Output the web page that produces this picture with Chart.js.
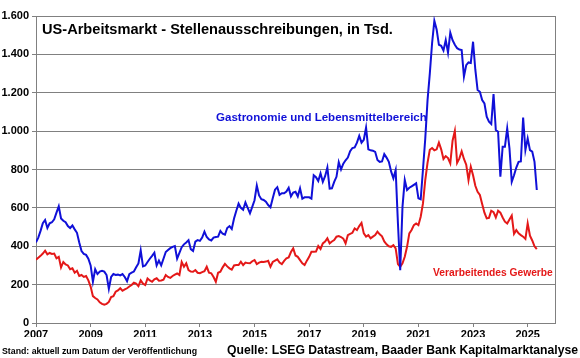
<!DOCTYPE html>
<html><head><meta charset="utf-8">
<script src="https://cdn.jsdelivr.net/npm/chart.js@4"></script>
<style>html,body{margin:0;padding:0;background:#fff}#wrap{width:580px;height:358px;position:relative}</style>
</head><body><div id="wrap"><canvas id="c" width="580" height="358"></canvas></div>
<script>
// Monthly data starting January 2007 (thousands)
const startYear = 2007;
const gastronomie = [
  420, 445, 480, 520, 537, 495, 520, 525, 540, 575, 608, 545,   // 2007
  533, 525, 505, 495, 508, 488, 470, 420, 375, 360, 355, 335,   // 2008
  300, 215, 280, 255, 268, 272, 268, 250, 178, 240, 255, 250,   // 2009
  252, 248, 255, 240, 218, 255, 262, 268, 290, 310, 378, 295,   // 2010
  300, 318, 335, 350, 366, 300, 325, 300, 335, 370, 380, 390,   // 2011
  397, 401, 335, 365, 395, 410, 420, 432, 385, 375, 424, 432,   // 2012
  428, 445, 476, 448, 435, 430, 445, 448, 450, 480, 465, 460,   // 2013
  495, 505, 490, 545, 585, 622, 600, 590, 628, 600, 572, 605,   // 2014
  640, 716, 665, 645, 641, 632, 615, 603, 650, 695, 708, 668,   // 2015
  676, 676, 685, 705, 660, 680, 684, 660, 702, 648, 655, 655,   // 2016
  655, 648, 770, 760, 740, 780, 736, 765, 810, 700, 702, 735,   // 2017
  762, 838, 800, 830, 848, 862, 895, 912, 915, 940, 975, 940,   // 2018
  955, 1018, 905, 900, 898, 892, 850, 840, 842, 880, 862, 840,  // 2019
  790, 754, 797, 520, 275, 605, 745, 693, 705, 712, 720, 728,   // 2020
  650, 645, 800, 960, 1160, 1300, 1458, 1575, 1530, 1450, 1445, 1420, // 2021
  1474, 1409, 1513, 1474, 1450, 1432, 1425, 1422, 1284, 1344, 1358, 1355, // 2022
  1466, 1320, 1214, 1205, 1162, 1145, 1075, 1049, 1037, 1193, 1006, 997, // 2023
  762, 919, 919, 1014, 910, 736, 770, 810, 840, 842, 1071, 901, // 2024
  962, 901, 893, 840, 693                                        // 2025
];
const verarbeitendes = [
  330, 340, 350, 362, 377, 358, 365, 360, 362, 337, 345, 290,   // 2007
  318, 305, 300, 280, 285, 262, 272, 245, 250, 240, 245, 222,   // 2008
  190, 140, 130, 123, 108, 100, 95, 100, 110, 135, 140, 163,    // 2009
  170, 181, 168, 175, 181, 190, 198, 210, 205, 192, 222, 205,   // 2010
  198, 232, 222, 215, 228, 233, 220, 222, 226, 250, 240, 235,   // 2011
  245, 252, 258, 250, 318, 293, 311, 276, 268, 267, 276, 262,   // 2012
  260, 265, 270, 293, 262, 259, 240, 215, 262, 267, 290, 308,   // 2013
  295, 285, 278, 300, 302, 302, 319, 302, 315, 312, 311, 322,   // 2014
  328, 307, 315, 319, 318, 320, 324, 293, 318, 325, 332, 315,   // 2015
  307, 324, 337, 342, 370, 389, 352, 345, 328, 311, 302, 325,   // 2016
  345, 371, 371, 372, 401, 386, 415, 424, 441, 415, 425, 432,   // 2017
  450, 453, 448, 440, 415, 458, 465, 470, 493, 484, 505, 522,   // 2018
  467, 450, 458, 441, 450, 458, 476, 462, 452, 425, 410, 400,   // 2019
  397, 406, 389, 307, 293, 311, 345, 397, 467, 485, 510, 519,   // 2020
  510, 554, 623, 745, 835, 903, 912, 900, 905, 940, 905, 855,   // 2021
  870, 860, 832, 950, 1001, 835, 858, 895, 855, 825, 745, 815,  // 2022
  770, 715, 684, 667, 620, 575, 545, 548, 585, 578, 550, 585,   // 2023
  575, 550, 528, 519, 540, 560, 465, 484, 467, 458, 450, 438,   // 2024
  519, 455, 430, 400, 385                                        // 2025
];
const seriesNames = ['Gastronomie und Lebensmittelbereich', 'Verarbeitendes Gewerbe'];
const yearTicks = [2007, 2009, 2011, 2013, 2015, 2017, 2019, 2021, 2023, 2025];
const valueTicks = [0, 200, 400, 600, 800, 1000, 1200, 1400, 1600];
const chartTitle = 'US-Arbeitsmarkt - Stellenausschreibungen, in Tsd.';
const footerLeft = 'Stand: aktuell zum Datum der Veröffentlichung';
const footerRight = 'Quelle: LSEG Datastream, Baader Bank Kapitalmarktanalyse';

const BLUE = '#1010d8';
const RED = '#e41818';
const GRID = '#808080';
const FONT = "'Liberation Sans', Arial, sans-serif";

const toPoints = arr => arr.map((v, i) => ({ x: startYear + i / 12, y: v }));
const fmtDE = v => v >= 1000 ? Math.floor(v / 1000) + '.' + String(v % 1000).padStart(3, '0') : String(v);

// mode 'size': scale font size to width; 'x': squeeze horizontally to width
function fitText(ctx, text, x, y, width, size, color, mode) {
  ctx.save();
  ctx.font = 'bold ' + size + 'px ' + FONT;
  let w = ctx.measureText(text).width;
  let sx = 1;
  if (mode === 'size') {
    const ns = size * width / w;
    ctx.font = 'bold ' + ns.toFixed(2) + 'px ' + FONT;
  } else if (mode === 'x') {
    sx = width / w;
  }
  ctx.fillStyle = color;
  ctx.textAlign = 'left';
  ctx.textBaseline = 'middle';
  ctx.translate(x, y);
  ctx.scale(sx, 1);
  ctx.fillText(text, 0, 0);
  ctx.restore();
}

const decor = {
  id: 'decor',
  beforeDraw(chart) {
    const c = chart.ctx;
    c.save(); c.fillStyle = '#fff'; c.fillRect(0, 0, chart.width, chart.height); c.restore();
  },
  beforeDatasetsDraw(chart) {
    const c = chart.ctx, a = chart.chartArea;
    c.save();
    c.strokeStyle = GRID; c.lineWidth = 1;
    c.strokeRect(Math.round(a.left) + 0.5, Math.round(a.top) + 0.5, Math.round(a.right - a.left), Math.round(a.bottom - a.top));
    c.restore();
  },
  afterDraw(chart) {
    const c = chart.ctx;
    fitText(c, chartTitle, 42, 30, 351, 14, '#000', 'size');
    fitText(c, seriesNames[0], 216, 118, 211, 11, BLUE, 'size');
    fitText(c, seriesNames[1], 433, 273, 120, 11, RED, 'size');
    fitText(c, footerLeft, 2, 351, 195, 9.5, '#000', 'x');
    fitText(c, footerRight, 227, 351, 351, 12, '#000', 'x');
  }
};

new Chart(document.getElementById('c').getContext('2d'), {
  type: 'line',
  data: {
    datasets: [
      { label: seriesNames[0], data: toPoints(gastronomie), borderColor: BLUE, borderWidth: 2, pointRadius: 0, tension: 0, fill: false },
      { label: seriesNames[1], data: toPoints(verarbeitendes), borderColor: RED, borderWidth: 2, pointRadius: 0, tension: 0, fill: false }
    ]
  },
  options: {
    responsive: false,
    animation: false,
    layout: { padding: { left: 0, right: 25, top: 16, bottom: 21 } },
    plugins: { legend: { display: false }, tooltip: { enabled: false }, title: { display: false } },
    scales: {
      x: {
        type: 'linear', min: 2007, max: 2026,
        afterBuildTicks: s => { s.ticks = yearTicks.map(v => ({ value: v })); },
        afterFit: s => { s.height = 14; },
        grid: { drawOnChartArea: false, drawTicks: true, tickLength: 4, color: GRID },
        border: { color: GRID, width: 1 },
        ticks: { font: { family: FONT, size: 11, weight: 'bold' }, color: '#000', padding: 1, maxRotation: 0, autoSkip: false, callback: v => String(v) }
      },
      y: {
        min: 0, max: 1600,
        afterBuildTicks: s => { s.ticks = valueTicks.map(v => ({ value: v })); },
        afterFit: s => { s.width = 36; },
        grid: { color: GRID, tickLength: 4, lineWidth: 1 },
        border: { color: GRID, width: 1 },
        ticks: { font: { family: FONT, size: 11, weight: 'bold' }, color: '#000', padding: 3, callback: v => fmtDE(v) }
      }
    }
  },
  plugins: [decor]
});
</script>
</body></html>
